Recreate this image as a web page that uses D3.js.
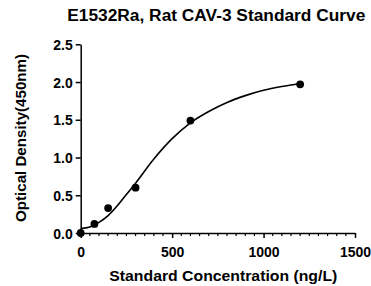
<!DOCTYPE html>
<html>
<head>
<meta charset="utf-8">
<script src="https://cdn.jsdelivr.net/npm/d3@7"></script>
<style>
    body { margin: 0; background: #fff; }
    svg { display: block; font-family: "Liberation Sans", Arial, sans-serif; }
</style>
</head>
<body>
<div id="chart"></div>
<script>
// standard points
const concentrations = [0, 75, 150, 300, 600, 1200];
const densities = [0.0, 0.12, 0.33, 0.60, 1.49, 1.97];

// fitted curve
const curveX = [0, 50, 100, 150, 200, 250, 300, 400, 500, 600, 700, 800, 900, 1000, 1100, 1200];
const curveY = [0.06, 0.08, 0.14, 0.23, 0.36, 0.51, 0.66, 0.98, 1.25, 1.46, 1.61, 1.73, 1.82, 1.89, 1.94, 1.98];

const xTicks = [0, 500, 1000, 1500];
const yTicks = [0.0, 0.5, 1.0, 1.5, 2.0, 2.5];

const width = 371;
const height = 286;
const margin = { top: 44.3, right: 16, bottom: 53, left: 80.7 };

const svg = d3.select('#chart')
    .append('svg')
    .attr('width', width)
    .attr('height', height);

const x = d3.scaleLinear()
    .domain([0, 1500])
    .range([margin.left, width - margin.right]);

const y = d3.scaleLinear()
    .domain([0, 2.5])
    .range([height - margin.bottom, margin.top]);

// minor ticks on x axis
const minorTicks = d3.range(0, 1501, 50).filter(d => d % 500 !== 0);
svg.append('g')
    .attr('transform', `translate(0, ${y(0)})`)
    .selectAll('line')
    .data(minorTicks)
    .enter()
    .append('line')
    .attr('x1', d => x(d))
    .attr('x2', d => x(d))
    .attr('y1', 0)
    .attr('y2', 3)
    .attr('stroke', '#000')
    .attr('stroke-width', 1.2);

const xAxis = svg.append('g')
    .attr('transform', `translate(0, ${y(0)})`)
    .call(d3.axisBottom(x).tickValues(xTicks).tickFormat(d3.format('d')).tickSize(5).tickSizeOuter(0));

const yAxis = svg.append('g')
    .attr('transform', `translate(${x(0)}, 0)`)
    .call(d3.axisLeft(y).tickValues(yTicks).tickFormat(d3.format('.1f')).tickSize(5).tickSizeOuter(0));

[xAxis, yAxis].forEach(g => {
    g.select('.domain').attr('stroke', '#000').attr('stroke-width', 1.5);
    g.selectAll('.tick line').attr('stroke', '#000').attr('stroke-width', 1.5);
    g.selectAll('.tick text')
        .attr('fill', '#000')
        .style('font-size', '14px')
        .style('font-weight', 'bold')
        .style('font-family', '"Liberation Sans", Arial, sans-serif');
});
xAxis.selectAll('.tick text').attr('dy', 0).attr('y', 23.5);
yAxis.selectAll('.tick text').attr('x', -8).attr('dy', '0.36em');

// fitted curve
const line = d3.line()
    .x((d, i) => x(curveX[i]))
    .y(d => y(d))
    .curve(d3.curveMonotoneX);

svg.append('path')
    .datum(curveY)
    .attr('d', line)
    .attr('fill', 'none')
    .attr('stroke', '#000')
    .attr('stroke-width', 1.6);

// points
svg.append('g')
    .selectAll('circle')
    .data(concentrations)
    .enter()
    .append('circle')
    .attr('cx', d => x(d))
    .attr('cy', (d, i) => y(densities[i]))
    .attr('r', 3.9)
    .attr('fill', '#000');

// title
svg.append('text')
    .attr('x', 67.3)
    .attr('y', 20.7)
    .attr('textLength', 298)
    .attr('lengthAdjust', 'spacingAndGlyphs')
    .style('font-size', '16px')
    .style('font-weight', 'bold')
    .text('E1532Ra, Rat CAV-3 Standard Curve');

// x label
svg.append('text')
    .attr('x', 109.3)
    .attr('y', 280.7)
    .attr('textLength', 228)
    .attr('lengthAdjust', 'spacingAndGlyphs')
    .style('font-size', '15.5px')
    .style('font-weight', 'bold')
    .text('Standard Concentration (ng/L)');

// y label
svg.append('text')
    .attr('transform', 'translate(26, 138) rotate(-90)')
    .attr('text-anchor', 'middle')
    .attr('textLength', 168)
    .attr('lengthAdjust', 'spacingAndGlyphs')
    .style('font-size', '15.5px')
    .style('font-weight', 'bold')
    .text('Optical Density(450nm)');
</script>
</body>
</html>
